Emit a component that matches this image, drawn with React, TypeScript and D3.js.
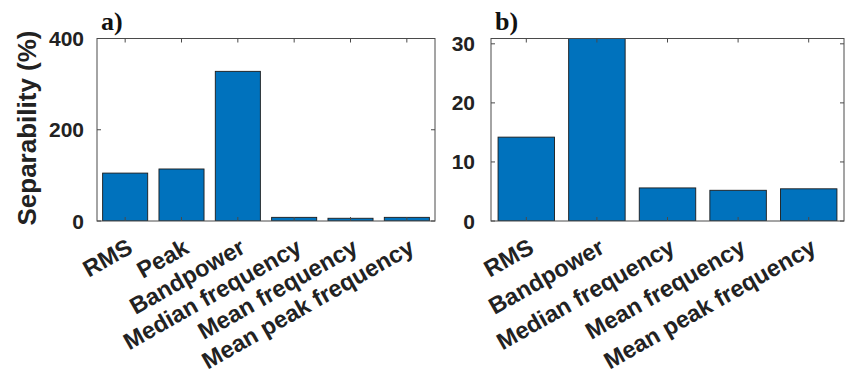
import React from "react";
import * as d3 from "d3";

// Feature separability, panel a (all features) and panel b (without Peak)
const categoriesA = ["RMS", "Peak", "Bandpower", "Median frequency", "Mean frequency", "Mean peak frequency"];
const valuesA = [105, 114, 328, 8, 6, 8];
const ticksA = [0, 200, 400];

const categoriesB = ["RMS", "Bandpower", "Median frequency", "Mean frequency", "Mean peak frequency"];
const valuesB = [14.2, 31, 5.6, 5.2, 5.45];
const ticksB = [0, 10, 20, 30];

const BAR = "#0072BD";
const AXIS = "#4a4a4a";
const TEXT = "#222";
const SANS = "'Liberation Sans', Arial, sans-serif";
const SERIF = "'Liberation Serif', 'Times New Roman', serif";

type PanelProps = {
  id: string;
  tag: string;
  categories: string[];
  values: number[];
  ticks: number[];
  yMax: number;
  left: number;
  right: number;
  top: number;
  bottom: number;
  labelGap: number;
};

function Panel({ id, tag, categories, values, ticks, yMax, left, right, top, bottom, labelGap }: PanelProps) {
  const n = categories.length;
  const x = d3.scaleLinear().domain([0.5, n + 0.5]).range([left, right]);
  const y = d3.scaleLinear().domain([0, yMax]).range([bottom, top]);
  const tickLen = 4;
  const clipId = `clip-${id}`;
  return (
    <g>
      <defs>
        <clipPath id={clipId}>
          <rect x={left} y={top} width={right - left} height={bottom - top} />
        </clipPath>
      </defs>
      <g clipPath={`url(#${clipId})`}>
        {values.map((v, i) => (
          <rect
            key={i}
            x={x(i + 1 - 0.4)}
            y={y(v)}
            width={x(i + 1 + 0.4) - x(i + 1 - 0.4)}
            height={y(0) - y(v)}
            fill={BAR}
            stroke="#1b1b1b"
            strokeWidth={0.9}
          />
        ))}
      </g>
      {/* box with inward ticks on all four sides */}
      <rect x={left} y={top} width={right - left} height={bottom - top} fill="none" stroke={AXIS} strokeWidth={1} />
      {categories.map((_, i) => (
        <g key={i}>
          <line x1={x(i + 1)} x2={x(i + 1)} y1={bottom} y2={bottom - tickLen} stroke={AXIS} strokeWidth={1} />
          <line x1={x(i + 1)} x2={x(i + 1)} y1={top} y2={top + tickLen} stroke={AXIS} strokeWidth={1} />
        </g>
      ))}
      {ticks.map((t) => (
        <g key={t}>
          <line x1={left} x2={left + tickLen} y1={y(t)} y2={y(t)} stroke={AXIS} strokeWidth={1} />
          <line x1={right} x2={right - tickLen} y1={y(t)} y2={y(t)} stroke={AXIS} strokeWidth={1} />
          <text
            x={left - labelGap}
            y={y(t)}
            dy="0.36em"
            textAnchor="end"
            fontFamily={SANS}
            fontWeight="bold"
            fontSize={21}
            fill={TEXT}
          >
            {t}
          </text>
        </g>
      ))}
      {categories.map((c, i) => (
        <text
          key={c}
          transform={`translate(${x(i + 1) + 9},${bottom + 31}) rotate(-29.5)`}
          textAnchor="end"
          fontFamily={SANS}
          fontWeight="bold"
          fontSize={23.5}
          fill={TEXT}
        >
          {c}
        </text>
      ))}
      <text x={left + 4} y={30} fontFamily={SERIF} fontWeight="bold" fontSize={26} fill="#111">
        {tag}
      </text>
    </g>
  );
}

export default function App() {
  return (
    <svg width={848} height={375} style={{ position: "absolute", left: 0, top: 0, background: "#fff" }}>
      <Panel
        id="a"
        tag="a)"
        categories={categoriesA}
        values={valuesA}
        ticks={ticksA}
        yMax={400}
        left={97}
        right={435}
        top={38.5}
        bottom={221}
        labelGap={13}
      />
      <Panel
        id="b"
        tag="b)"
        categories={categoriesB}
        values={valuesB}
        ticks={ticksB}
        yMax={30.9}
        left={491}
        right={844}
        top={38.5}
        bottom={221}
        labelGap={16}
      />
      <text
        transform="translate(36,128) rotate(-90)"
        textAnchor="middle"
        fontFamily={SANS}
        fontWeight="bold"
        fontSize={26}
        fill={TEXT}
      >
        Separability (%)
      </text>
    </svg>
  );
}
